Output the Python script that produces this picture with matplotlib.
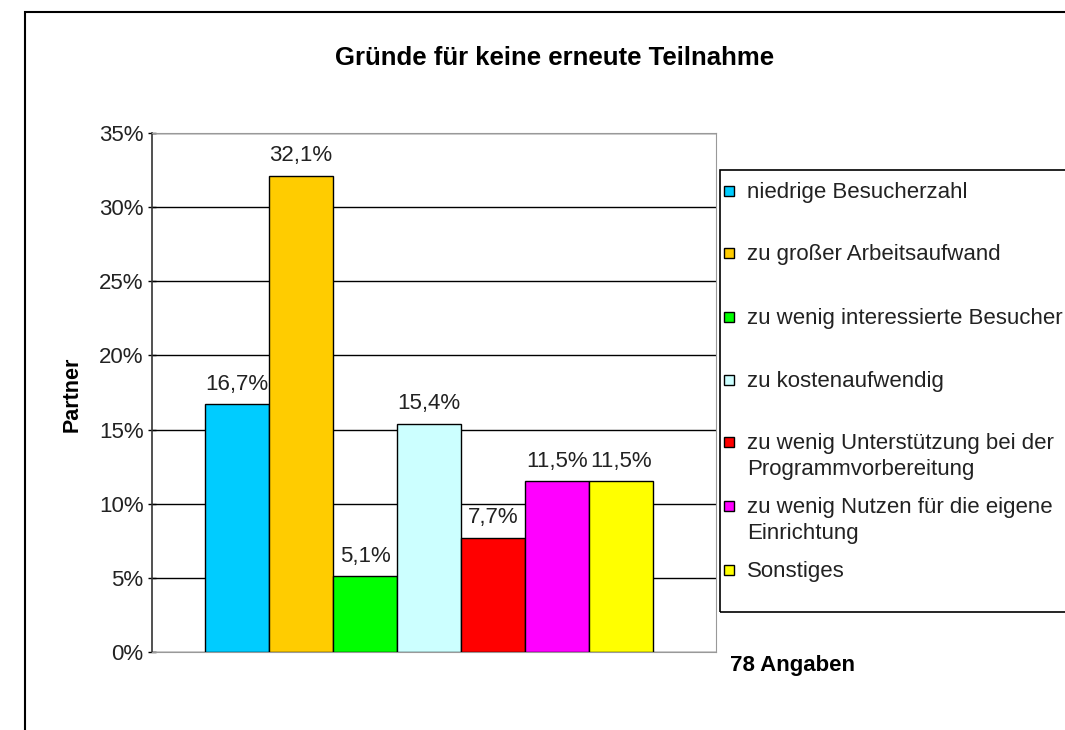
import matplotlib.pyplot as plt
from matplotlib.patches import Rectangle

plt.rcParams['font.family'] = ['Liberation Sans', 'DejaVu Sans']

# data
categories = ['niedrige Besucherzahl', 'zu großer Arbeitsaufwand', 'zu wenig interessierte Besucher',
              'zu kostenaufwendig', 'zu wenig Unterstützung bei der\nProgrammvorbereitung',
              'zu wenig Nutzen für die eigene\nEinrichtung', 'Sonstiges']
values = [16.7, 32.1, 5.1, 15.4, 7.7, 11.5, 11.5]
colors = ['#00CCFF', '#FFCC00', '#00FF00', '#CCFFFF', '#FF0000', '#FF00FF', '#FFFF00']
yticks = [0, 5, 10, 15, 20, 25, 30, 35]

fs = 16

fig = plt.figure(figsize=(10.65, 7.3), dpi=100)

# outer chart frame (cut off at right and bottom)
fig.patches.append(Rectangle((25/1065, -0.1), 1.2, 1 - 12/730 + 0.1, transform=fig.transFigure,
                             fill=False, edgecolor='black', linewidth=1.5))

ax = fig.add_axes([152/1065, 1 - 652/730, 564/1065, 519/730])
x = range(len(values))
ax.bar(x, values, width=1.0, color=colors, edgecolor='black', linewidth=1, zorder=3)
for i, v in zip(x, values):
    ax.annotate(('%.1f%%' % v).replace('.', ','), (i, v), xytext=(0, 7), textcoords='offset points',
                ha='center', va='bottom', fontsize=fs, color='#222222')

ax.set_xlim(-1.33, 7.48)
ax.set_ylim(0, 35)
ax.set_yticks(yticks)
ax.set_yticklabels(['%d%%' % t for t in yticks], fontsize=fs, color='#222222')
ax.set_xticks([])
ax.tick_params(axis='y', direction='inout', length=6, width=1, pad=3)
ax.yaxis.grid(True, color='black', linewidth=1, zorder=0)
ax.set_axisbelow(True)
for s in ['top', 'right', 'bottom']:
    ax.spines[s].set_color('#999999')
ax.spines['left'].set_color('#333333')
ax.spines['left'].set_linewidth(1.2)

fig.text(72/1065, 1 - 394/730, 'Partner', rotation=90, ha='center', va='center',
         fontsize=15.5, fontweight='bold')
fig.text(555/1065, 1 - 58/730, 'Gründe für keine erneute Teilnahme', ha='center', va='center',
         fontsize=18.5, fontweight='bold')

# legend box drawn by hand (cut off on the right)
fig.patches.append(Rectangle((720/1065, 1 - 612/730), 0.4, 442/730, transform=fig.transFigure,
                             fill=False, edgecolor='black', linewidth=1.2))
leg_y = [191, 253, 317, 380, 442, 506, 570]
for lab, c, yy in zip(categories, colors, leg_y):
    fig.patches.append(Rectangle((724/1065, 1 - (yy + 5)/730), 10/1065, 10/730, transform=fig.transFigure,
                                 facecolor=c, edgecolor='black', linewidth=1))
    fig.text(747/1065, 1 - (yy - 9)/730, lab, ha='left', va='top', fontsize=fs,
             color='#222222', linespacing=1.3)

fig.text(730/1065, 1 - 665/730, '78 Angaben', ha='left', va='center', fontsize=fs, fontweight='bold')

fig.savefig('out.png', dpi=100)
